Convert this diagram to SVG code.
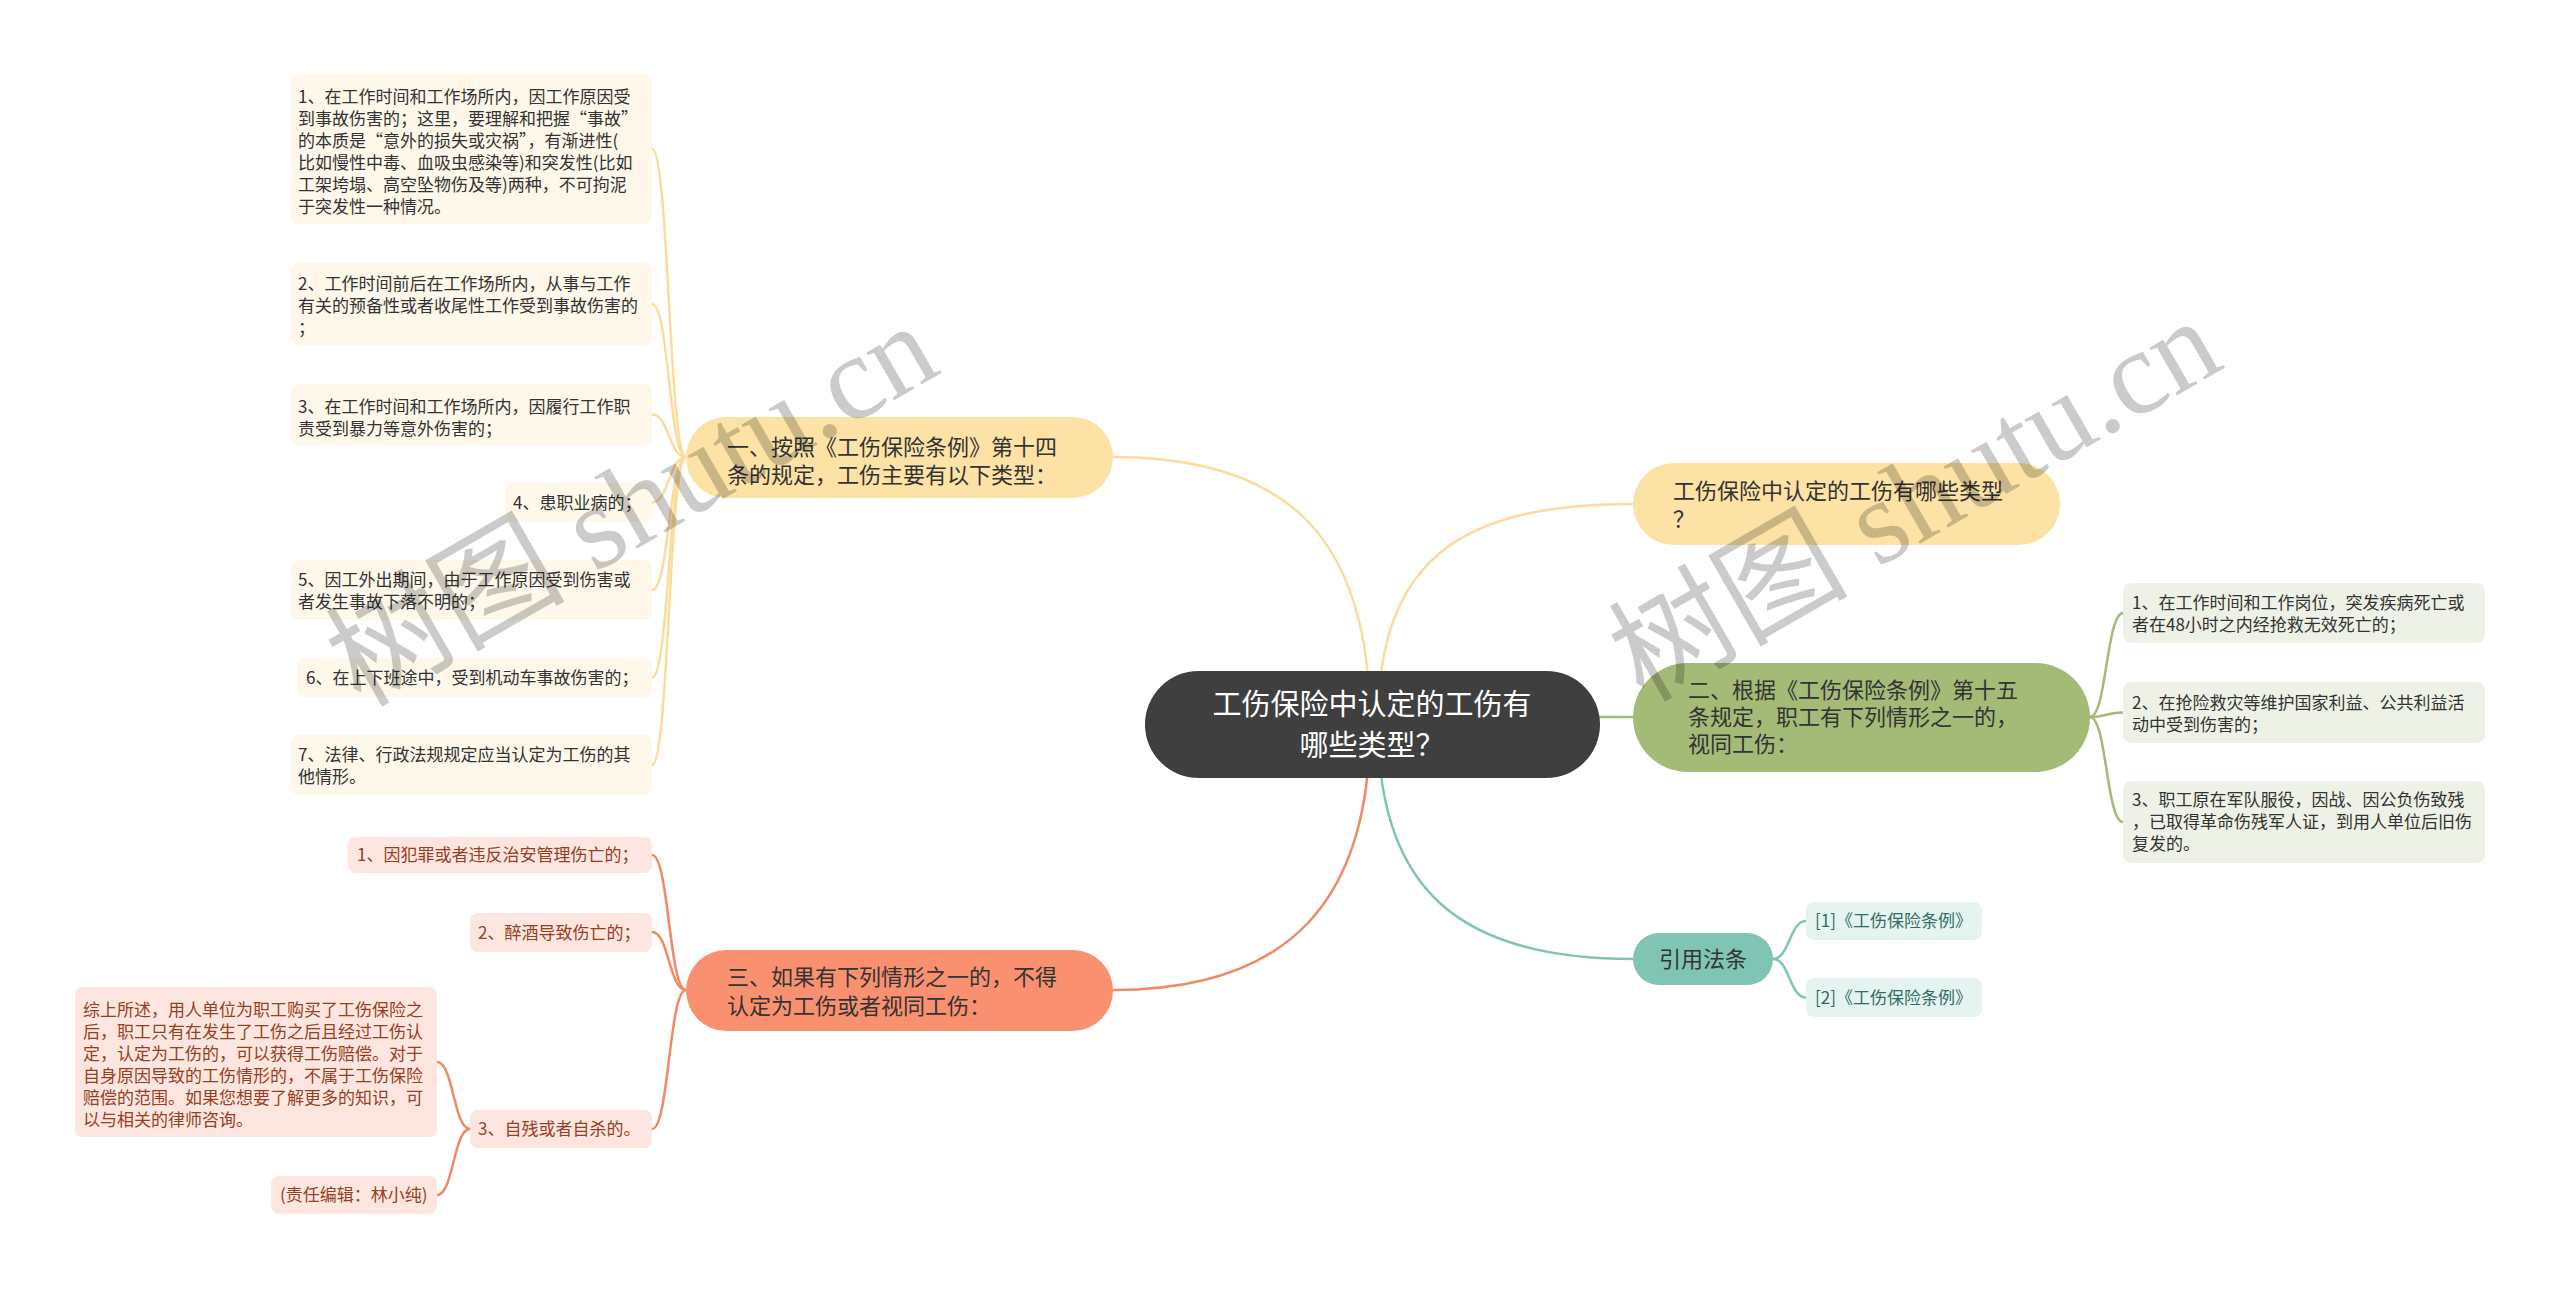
<svg xmlns="http://www.w3.org/2000/svg" width="2560" height="1289" viewBox="0 0 2560 1289">
<style>
text{font-family:"Noto Sans CJK SC","Noto Sans",sans-serif;}
.root{fill:#3f3f3f;}
.rt{fill:#ffffff;font-size:29px;text-anchor:middle;}
.bt{fill:#333333;font-size:22px;}
.lt{font-size:17px;}
.y{fill:#fde2a6;}
.g{fill:#a4bb78;}
.t{fill:#80c5b4;}
.o{fill:#f9906f;}
.ly{fill:#fdf8ea;}
.lg{fill:#eef2e6;}
.lt2{fill:#e5f4f0;}
.lo{fill:#fde6df;}
.cy{stroke:#fbdc9c;}
.cg{stroke:#a4bb78;}
.ct{stroke:#80c5b4;}
.co{stroke:#f08a66;}
#connectors path{fill:none;stroke-width:2.5;}
.wm{font-family:"Liberation Serif","Noto Sans CJK SC",serif;font-size:120px;fill:#000;opacity:0.2;text-anchor:middle;}
</style>
<g id="connectors">
<path class="cy" d="M1370,724 C1370,540 1290,457 1113,457"/>
<path class="cy" d="M1378,724 C1378,560 1460,504 1633,504"/>
<path class="cg" d="M1590,717 L1633,717"/>
<path class="co" d="M1370,724 C1370,900 1290,990 1113,990"/>
<path class="ct" d="M1378,724 C1378,890 1460,959 1633,959"/>
<path class="cy" d="M686,457 C669,457 669,149 652,149"/>
<path class="cy" d="M686,457 C669,457 669,304 652,304"/>
<path class="cy" d="M686,457 C669,457 669,414.5 652,414.5"/>
<path class="cy" d="M686,457 C669,457 669,502.5 652,502.5"/>
<path class="cy" d="M686,457 C669,457 669,590 652,590"/>
<path class="cy" d="M686,457 C669,457 669,677.5 652,677.5"/>
<path class="cy" d="M686,457 C669,457 669,765 652,765"/>
<path class="cg" d="M2090,717 C2106.5,717 2106.5,613 2123,613"/>
<path class="cg" d="M2090,717 C2106.5,717 2106.5,712.5 2123,712.5"/>
<path class="cg" d="M2090,717 C2106.5,717 2106.5,822 2123,822"/>
<path class="ct" d="M1773,959 C1789.5,959 1789.5,921 1806,921"/>
<path class="ct" d="M1773,959 C1789.5,959 1789.5,997.5 1806,997.5"/>
<path class="co" d="M686,990 C669,990 669,855 652,855"/>
<path class="co" d="M686,990 C669,990 669,932 652,932"/>
<path class="co" d="M686,990 C669,990 669,1129 652,1129"/>
<path class="co" d="M470,1129 C453.5,1129 453.5,1062 437,1062"/>
<path class="co" d="M470,1129 C453.5,1129 453.5,1195 437,1195"/>
</g>
<g id="root">
<rect class="root" x="1145" y="671" width="455" height="107" rx="53.5"/>
<text class="rt" x="1372" y="715">工伤保险中认定的工伤有</text>
<text class="rt" x="1372" y="756">哪些类型？</text>
</g>
<g id="branch1">
<rect class="y" x="686" y="417" width="427" height="81" rx="40.5"/>
<text class="bt" x="727" y="455">一、按照《工伤保险条例》第十四</text>
<text class="bt" x="727" y="483">条的规定，工伤主要有以下类型：</text>
</g>
<g id="b1-leaf1">
<rect class="ly" x="290" y="74" width="362" height="150" rx="8"/>
<text class="lt" fill="#333" x="298" y="103">1、在工作时间和工作场所内，因工作原因受</text>
<text class="lt" fill="#333" x="298" y="125">到事故伤害的；这里，要理解和把握“事故”</text>
<text class="lt" fill="#333" x="298" y="147">的本质是“意外的损失或灾祸”，有渐进性(</text>
<text class="lt" fill="#333" x="298" y="169">比如慢性中毒、血吸虫感染等)和突发性(比如</text>
<text class="lt" fill="#333" x="298" y="191">工架垮塌、高空坠物伤及等)两种，不可拘泥</text>
<text class="lt" fill="#333" x="298" y="213">于突发性一种情况。</text>
</g>
<g id="b1-leaf2">
<rect class="ly" x="291" y="263" width="361" height="82" rx="8"/>
<text class="lt" fill="#333" x="298" y="290">2、工作时间前后在工作场所内，从事与工作</text>
<text class="lt" fill="#333" x="298" y="312">有关的预备性或者收尾性工作受到事故伤害的</text>
<text class="lt" fill="#333" x="298" y="334">；</text>
</g>
<g id="b1-leaf3">
<rect class="ly" x="291" y="384" width="361" height="61" rx="8"/>
<text class="lt" fill="#333" x="298" y="413">3、在工作时间和工作场所内，因履行工作职</text>
<text class="lt" fill="#333" x="298" y="435">责受到暴力等意外伤害的；</text>
</g>
<g id="b1-leaf4">
<rect class="ly" x="505" y="483" width="147" height="39" rx="8"/>
<text class="lt" fill="#333" x="513" y="509">4、患职业病的；</text>
</g>
<g id="b1-leaf5">
<rect class="ly" x="291" y="560" width="361" height="60" rx="8"/>
<text class="lt" fill="#333" x="298" y="586">5、因工外出期间，由于工作原因受到伤害或</text>
<text class="lt" fill="#333" x="298" y="608">者发生事故下落不明的；</text>
</g>
<g id="b1-leaf6">
<rect class="ly" x="297" y="658" width="355" height="39" rx="8"/>
<text class="lt" fill="#333" x="306" y="684">6、在上下班途中，受到机动车事故伤害的；</text>
</g>
<g id="b1-leaf7">
<rect class="ly" x="291" y="735" width="361" height="60" rx="8"/>
<text class="lt" fill="#333" x="298" y="761">7、法律、行政法规规定应当认定为工伤的其</text>
<text class="lt" fill="#333" x="298" y="783">他情形。</text>
</g>
<g id="question">
<rect class="y" x="1633" y="463" width="427" height="82" rx="41"/>
<text class="bt" x="1673" y="499">工伤保险中认定的工伤有哪些类型</text>
<text class="bt" x="1673" y="527">？</text>
</g>
<g id="branch2">
<rect class="g" x="1633" y="663" width="457" height="109" rx="54.5"/>
<text class="bt" x="1688" y="698">二、根据《工伤保险条例》第十五</text>
<text class="bt" x="1688" y="725">条规定，职工有下列情形之一的，</text>
<text class="bt" x="1688" y="752">视同工伤：</text>
</g>
<g id="b2-leaf1">
<rect class="lg" x="2123" y="583" width="362" height="60" rx="8"/>
<text class="lt" fill="#333" x="2132" y="609">1、在工作时间和工作岗位，突发疾病死亡或</text>
<text class="lt" fill="#333" x="2132" y="631">者在48小时之内经抢救无效死亡的；</text>
</g>
<g id="b2-leaf2">
<rect class="lg" x="2123" y="682" width="362" height="61" rx="8"/>
<text class="lt" fill="#333" x="2132" y="709">2、在抢险救灾等维护国家利益、公共利益活</text>
<text class="lt" fill="#333" x="2132" y="731">动中受到伤害的；</text>
</g>
<g id="b2-leaf3">
<rect class="lg" x="2123" y="781" width="362" height="82" rx="8"/>
<text class="lt" fill="#333" x="2132" y="806">3、职工原在军队服役，因战、因公负伤致残</text>
<text class="lt" fill="#333" x="2132" y="828">，已取得革命伤残军人证，到用人单位后旧伤</text>
<text class="lt" fill="#333" x="2132" y="850">复发的。</text>
</g>
<g id="refs">
<rect class="t" x="1633" y="933" width="140" height="52" rx="26"/>
<text class="bt" x="1703" y="967" text-anchor="middle">引用法条</text>
</g>
<g id="ref1">
<rect class="lt2" x="1806" y="902" width="176" height="38" rx="8"/>
<text class="lt" fill="#2f6e63" x="1815" y="927">[1]《工伤保险条例》</text>
</g>
<g id="ref2">
<rect class="lt2" x="1806" y="978" width="176" height="39" rx="8"/>
<text class="lt" fill="#2f6e63" x="1815" y="1004">[2]《工伤保险条例》</text>
</g>
<g id="branch3">
<rect class="o" x="686" y="950" width="427" height="81" rx="40.5"/>
<text class="bt" x="727" y="985">三、如果有下列情形之一的，不得</text>
<text class="bt" x="727" y="1014">认定为工伤或者视同工伤：</text>
</g>
<g id="b3-leaf1">
<rect class="lo" x="348" y="837" width="304" height="36" rx="8"/>
<text class="lt" fill="#963f22" x="357" y="861">1、因犯罪或者违反治安管理伤亡的；</text>
</g>
<g id="b3-leaf2">
<rect class="lo" x="470" y="913" width="182" height="39" rx="8"/>
<text class="lt" fill="#963f22" x="478" y="939">2、醉酒导致伤亡的；</text>
</g>
<g id="b3-leaf3">
<rect class="lo" x="470" y="1110" width="182" height="38" rx="8"/>
<text class="lt" fill="#963f22" x="478" y="1135">3、自残或者自杀的。</text>
</g>
<g id="b3-summary">
<rect class="lo" x="75" y="987" width="362" height="150" rx="8"/>
<text class="lt" fill="#963f22" x="83" y="1016">综上所述，用人单位为职工购买了工伤保险之</text>
<text class="lt" fill="#963f22" x="83" y="1038">后，职工只有在发生了工伤之后且经过工伤认</text>
<text class="lt" fill="#963f22" x="83" y="1060">定，认定为工伤的，可以获得工伤赔偿。对于</text>
<text class="lt" fill="#963f22" x="83" y="1082">自身原因导致的工伤情形的，不属于工伤保险</text>
<text class="lt" fill="#963f22" x="83" y="1104">赔偿的范围。如果您想要了解更多的知识，可</text>
<text class="lt" fill="#963f22" x="83" y="1126">以与相关的律师咨询。</text>
</g>
<g id="b3-editor">
<rect class="lo" x="271" y="1176" width="166" height="38" rx="8"/>
<text class="lt" fill="#963f22" x="280" y="1201">(责任编辑：林小纯)</text>
</g>
<g id="watermarks">
<text class="wm" transform="translate(652,540) rotate(-30)">树图 shutu.cn</text>
<text class="wm" transform="translate(1935,535) rotate(-30)">树图 shutu.cn</text>
</g>
</svg>
